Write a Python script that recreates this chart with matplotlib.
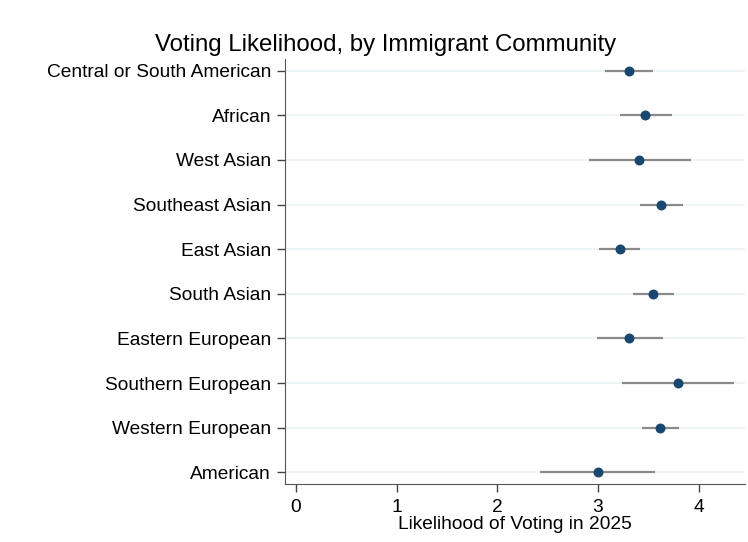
import matplotlib
matplotlib.use("Agg")
import matplotlib.pyplot as plt
import numpy as np

plt.rcParams["font.family"] = ["Liberation Sans", "DejaVu Sans"]

# community groups, top to bottom
groups = [
    "Central or South American", "African", "West Asian", "Southeast Asian",
    "East Asian", "South Asian", "Eastern European", "Southern European",
    "Western European", "American",
]
estimate = [3.31, 3.47, 3.41, 3.63, 3.22, 3.55, 3.31, 3.79, 3.62, 3.00]
ci_low = [3.07, 3.22, 2.91, 3.42, 3.01, 3.35, 2.99, 3.24, 3.44, 2.42]
ci_high = [3.55, 3.73, 3.92, 3.84, 3.42, 3.75, 3.65, 4.35, 3.80, 3.57]
xticks = [0, 1, 2, 3, 4]

ypos = np.arange(1, len(groups) + 1)

fig = plt.figure(figsize=(7.48, 5.42), dpi=100)
ax = fig.add_axes([0.381, 0.107, 0.615, 0.784])

for y in ypos:
    ax.axhline(y, color="#eaf2f3", lw=1.2, zorder=0)

ax.hlines(ypos, ci_low, ci_high, color="#8a8a8a", lw=1.6, zorder=2)
ax.scatter(estimate, ypos, s=38, color="#1a476f", zorder=3)

ax.set_xlim(-0.11, 4.46)
ax.set_ylim(10.26, 0.74)
ax.set_yticks(ypos)
ax.set_yticklabels(groups)
ax.set_xticks(xticks)
ax.tick_params(axis="both", labelsize=13.8, length=6, width=1, direction="out",
               color="#444444")
ax.tick_params(axis="y", pad=4)
ax.tick_params(axis="x", pad=5)

for side in ("top", "right"):
    ax.spines[side].set_visible(False)
ax.spines["left"].set_color("#555555")
ax.spines["bottom"].set_color("#555555")

ax.set_xlabel("Likelihood of Voting in 2025", fontsize=13.8, labelpad=0)
fig.text(0.515, 0.906, "Voting Likelihood, by Immigrant Community",
         ha="center", va="baseline", fontsize=17.3)

fig.savefig("out.png", dpi=100)
